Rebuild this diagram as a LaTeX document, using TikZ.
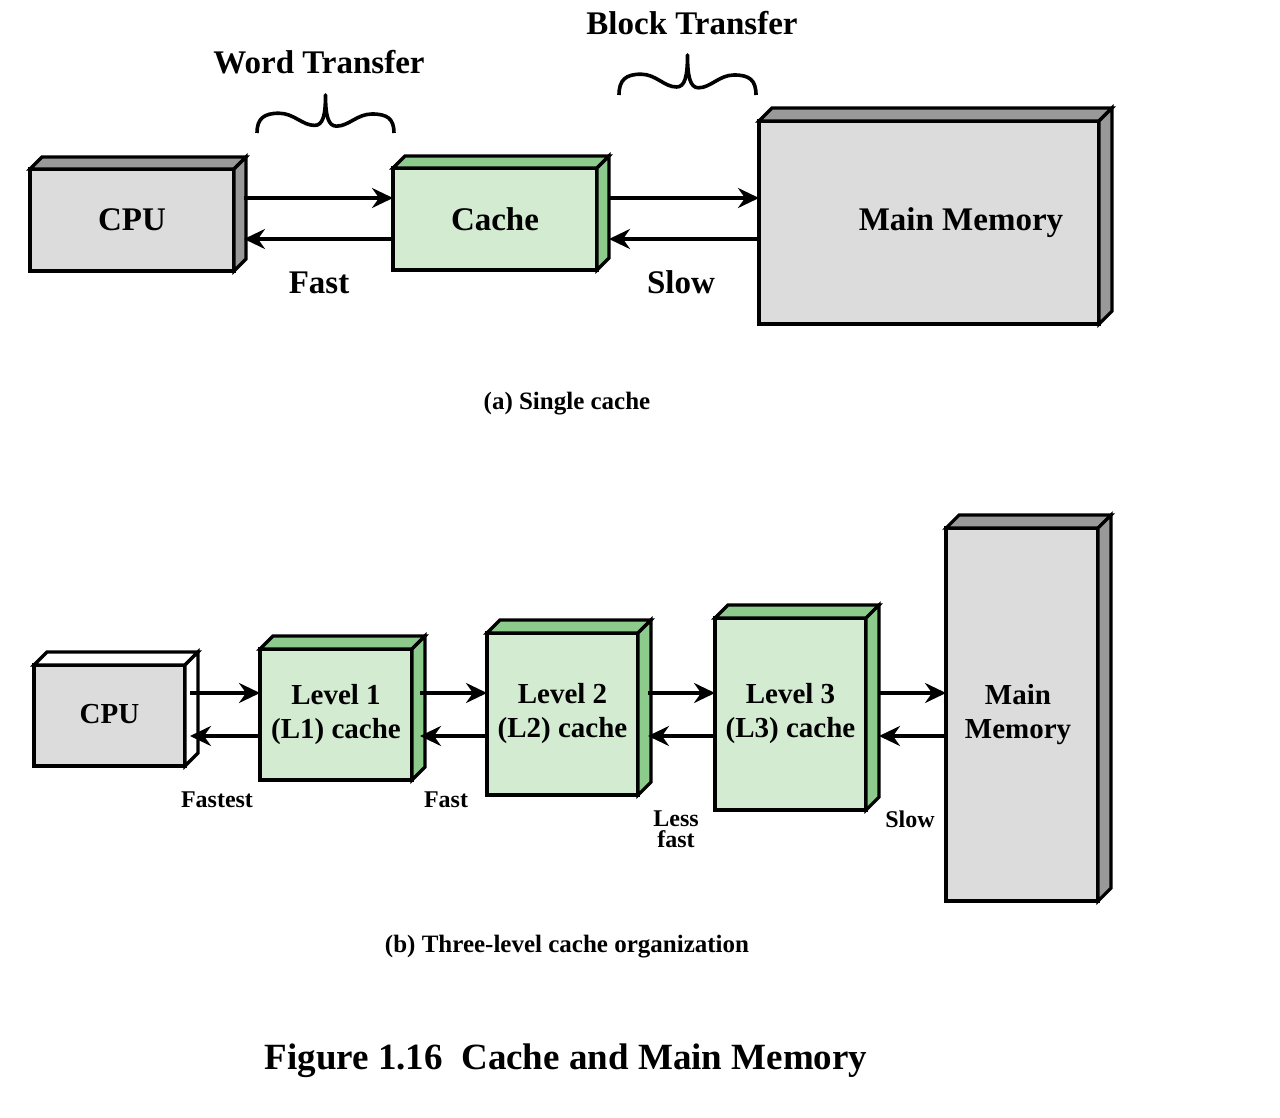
\documentclass[tikz,border=0pt]{standalone}
\usepackage{fontspec}
\setmainfont{Liberation Serif}
\usetikzlibrary{arrows.meta,calc}
\definecolor{grayfront}{HTML}{DCDCDC}
\definecolor{grayside}{HTML}{999999}
\definecolor{greenfront}{HTML}{D3EBD1}
\definecolor{greenside}{HTML}{8CCB8C}
\newcommand\boxfaces[3]{%
  \filldraw[boxface, fill=#3] (#1.north west) -- ++(#2,-#2) -- ([shift={(#2,-#2)}]#1.north east) -- (#1.north east) -- cycle;
  \filldraw[boxface, fill=#3] (#1.north east) -- ([shift={(#2,-#2)}]#1.north east) -- ([shift={(#2,-#2)}]#1.south east) -- (#1.south east) -- cycle;}
\newcommand\bracepath{(0,1) .. controls (0,0.62) and (0.05,0.48) .. (0.16,0.48)
  .. controls (0.27,0.48) and (0.33,0.8) .. (0.42,0.8)
  .. controls (0.48,0.8) and (0.5,0.55) .. (0.5,0)
  .. controls (0.5,0.55) and (0.52,0.82) .. (0.58,0.82)
  .. controls (0.67,0.82) and (0.73,0.5) .. (0.84,0.5)
  .. controls (0.95,0.5) and (1,0.62) .. (1,1)}
\tikzset{
  boxface/.style={line width=3.2pt, draw=black, line join=miter},
  frontbox/.style={draw, line width=3.2pt, inner sep=0pt, outer sep=0pt, align=center},
  grayfr/.style={frontbox, fill=grayfront},
  greenfr/.style={frontbox, fill=greenfront},
  bigtxt/.style={font=\bfseries\fontsize{33}{38}\selectfont},
  midtxt/.style={font=\bfseries\fontsize{29}{34}\selectfont},
  smalltxt/.style={font=\bfseries\fontsize{24}{21}\selectfont, align=center, inner sep=0pt},
  captxt/.style={font=\bfseries\fontsize{25}{30}\selectfont, inner sep=0pt},
  figtxt/.style={font=\bfseries\fontsize{37}{44}\selectfont, inner sep=0pt},
  lbl/.style={bigtxt, inner sep=0pt},
  arr/.style={line width=3.2pt, -{Stealth[length=21pt,width=20pt,inset=7pt]}},
  bracestyle/.style={line width=3.6pt, line join=round}
}
\begin{document}
\begin{tikzpicture}[x=1pt,y=-1pt]
\useasboundingbox (0,0) rectangle (1280,1118);
\fill[white] (0,0) rectangle (1280,1118);

% ---------- (a) single cache ----------
\node[grayfr, bigtxt, minimum width=204pt, minimum height=102pt] (cpuA) at (132,220) {CPU};
\boxfaces{cpuA}{12}{grayside}
\node[greenfr, bigtxt, minimum width=204pt, minimum height=102pt] (cacheA) at (495,219) {Cache};
\boxfaces{cacheA}{12}{greenside}
\node[grayfr, bigtxt, minimum width=340pt, minimum height=203pt] (mmA) at (929,222.5) {\hspace*{64pt}Main Memory};
\boxfaces{mmA}{13}{grayside}

\draw[arr] ($(cpuA.east)+(10,-22)$) -- ($(cacheA.west)+(0,-21)$);
\draw[arr] ($(cacheA.west)+(0,20)$) -- ($(cpuA.east)+(10,19)$);
\draw[arr] ($(cacheA.east)+(12,-21)$) -- ($(mmA.west)+(0,-24.5)$);
\draw[arr] ($(mmA.west)+(0,16.5)$) -- ($(cacheA.east)+(12,20)$);

\begin{scope}[shift={(257,95)}, xscale=137, yscale=38]
  \draw[bracestyle] \bracepath;
\end{scope}
\begin{scope}[shift={(619,55)}, xscale=137, yscale=40]
  \draw[bracestyle] \bracepath;
\end{scope}

\node[lbl, anchor=base] (tWord) at (319,74) {Word Transfer};
\node[lbl, anchor=base] (tBlock) at (692,35) {Block Transfer};
\node[lbl, anchor=base] (fastA) at (319,293) {Fast};
\node[lbl, anchor=base] (slowA) at (681,293) {Slow};
\node[captxt, anchor=base] (capA) at (567,409) {(a) Single cache};

% ---------- (b) three-level ----------
\node[grayfr, midtxt, minimum width=151pt, minimum height=101pt] (cpuB) at (109.5,715.5) {\raisebox{4pt}{CPU}};
\boxfaces{cpuB}{13}{white}
\node[greenfr, midtxt, minimum width=152pt, minimum height=131pt] (l1) at (336,714.5) {Level 1\\(L1) cache};
\boxfaces{l1}{13}{greenside}
\node[greenfr, midtxt, minimum width=151pt, minimum height=162pt] (l2) at (562.5,714) {Level 2\\(L2) cache};
\boxfaces{l2}{13}{greenside}
\node[greenfr, midtxt, minimum width=151pt, minimum height=192pt] (l3) at (790.5,714) {Level 3\\(L3) cache};
\boxfaces{l3}{13}{greenside}
\node[grayfr, midtxt, minimum width=152pt, minimum height=373pt] (mmB) at (1022,714.5) {Main\hspace*{8pt}\\Memory\hspace*{8pt}};
\boxfaces{mmB}{13}{grayside}

\draw[arr] ($(cpuB.east)+(5,-22.5)$) -- ($(l1.west)+(0,-21.5)$);
\draw[arr] ($(l1.west)+(0,21.5)$) -- ($(cpuB.east)+(5,20.5)$);
\draw[arr] ($(l1.east)+(8,-21.5)$) -- ($(l2.west)+(0,-21)$);
\draw[arr] ($(l2.west)+(0,22)$) -- ($(l1.east)+(8,21.5)$);
\draw[arr] ($(l2.east)+(10,-21)$) -- ($(l3.west)+(0,-21)$);
\draw[arr] ($(l3.west)+(0,22)$) -- ($(l2.east)+(10,22)$);
\draw[arr] ($(l3.east)+(13,-21)$) -- ($(mmB.west)+(0,-21.5)$);
\draw[arr] ($(mmB.west)+(0,21.5)$) -- ($(l3.east)+(13,22)$);

\node[smalltxt, anchor=base] (fastest) at (217,807) {Fastest};
\node[smalltxt, anchor=base] (fastB) at (446,807) {Fast};
\node[smalltxt] (lessfast) at (676,829) {Less\\fast};
\node[smalltxt, anchor=base] (slowB) at (910,827) {Slow};
\node[captxt, anchor=base] (capB) at (567,952) {(b) Three-level cache organization};

\node[figtxt, anchor=base] (fig) at (566,1069) {Figure 1.16~~Cache and Main Memory};
\end{tikzpicture}
\end{document}
